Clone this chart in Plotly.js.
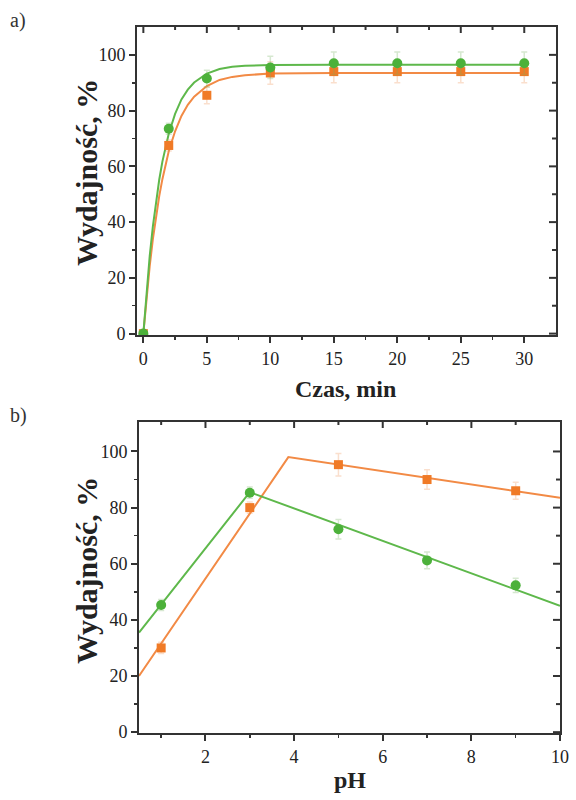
<!DOCTYPE html>
<html>
<head>
<meta charset="utf-8">
<script src="https://cdn.plot.ly/plotly-3.0.1.min.js"></script>
<style>html,body{margin:0;padding:0;background:#fff;}#chart{width:576px;height:800px;}</style>
</head>
<body>
<div id="chart"></div>
<script>
// ---- Panel a) : yield vs time ----
const timeX = [0, 2, 5, 10, 15, 20, 25, 30];
const timeGreen = [0, 73.5, 91.5, 95.5, 97, 97, 97, 97];
const timeOrange = [0, 67.5, 85.5, 93.5, 94, 94, 94, 94];
const timeGreenErr = [0, 2, 3, 4, 4, 4, 4, 4];
const timeOrangeErr = [0, 2, 3, 4, 4, 4, 4, 4];
const fitTimeX = [0, 0.25, 0.5, 0.75, 1, 1.25, 1.5, 2, 2.5, 3, 3.5, 4, 5, 6, 7, 8, 10, 12, 15, 20, 25, 30];
const fitTimeGreen = [0, 15.0, 27.8, 38.5, 47.6, 55.2, 61.7, 71.7, 78.8, 84.0, 87.5, 90.1, 93.3, 94.9, 95.7, 96.1, 96.4, 96.5, 96.5, 96.5, 96.5, 96.5];
const fitTimeOrange = [0, 13.0, 24.2, 33.9, 42.2, 49.3, 55.4, 65.4, 72.6, 78.1, 82.1, 85.0, 88.8, 91.0, 92.1, 92.7, 93.3, 93.45, 93.5, 93.5, 93.5, 93.5];

// ---- Panel b) : yield vs pH ----
const phX = [1, 3, 5, 7, 9];
const phGreen = [45.3, 85.3, 72.3, 61.2, 52.3];
const phOrange = [30, 80, 95.3, 90, 86];
const phGreenErr = [2, 2, 3.5, 3, 2.5];
const phOrangeErr = [2, 2, 4, 3.5, 3];
const fitPhGreenX = [0.5, 3, 10];
const fitPhGreenY = [35.5, 85.5, 45];
const fitPhOrangeX = [0.5, 3.87, 10];
const fitPhOrangeY = [20, 98, 83.5];

const yTicks = [0, 20, 40, 60, 80, 100];
const yMinor = [10, 30, 50, 70, 90];
const timeTicks = [0, 5, 10, 15, 20, 25, 30];
const timeMinor = [2.5, 7.5, 12.5, 17.5, 22.5, 27.5];
const phTicks = [2, 4, 6, 8, 10];
const phMinor = [1, 3, 5, 7, 9];

const GREEN = '#4cb13a';
const GREEN_L = '#5eb84b';
const ORANGE = '#f07a26';
const ORANGE_L = '#f28a45';
const SERIF = '"Liberation Serif", "Times New Roman", serif';

const traces = [
  {x: fitTimeX, y: fitTimeOrange, mode: 'lines', line: {color: ORANGE_L, width: 2}, xaxis: 'x', yaxis: 'y', hoverinfo: 'skip'},
  {x: fitTimeX, y: fitTimeGreen, mode: 'lines', line: {color: GREEN_L, width: 2}, xaxis: 'x', yaxis: 'y', hoverinfo: 'skip'},
  {x: timeX, y: timeOrange, mode: 'markers', marker: {symbol: 'square', size: 9, color: ORANGE},
   error_y: {type: 'data', array: timeOrangeErr, color: 'rgba(240,150,90,0.3)', thickness: 1.5, width: 3}, xaxis: 'x', yaxis: 'y'},
  {x: timeX, y: timeGreen, mode: 'markers', marker: {symbol: 'circle', size: 10, color: GREEN},
   error_y: {type: 'data', array: timeGreenErr, color: 'rgba(120,180,100,0.3)', thickness: 1.5, width: 3}, xaxis: 'x', yaxis: 'y'},

  {x: fitPhOrangeX, y: fitPhOrangeY, mode: 'lines', line: {color: ORANGE_L, width: 2}, xaxis: 'x2', yaxis: 'y2', hoverinfo: 'skip'},
  {x: fitPhGreenX, y: fitPhGreenY, mode: 'lines', line: {color: GREEN_L, width: 2}, xaxis: 'x2', yaxis: 'y2', hoverinfo: 'skip'},
  {x: phX, y: phOrange, mode: 'markers', marker: {symbol: 'square', size: 9, color: ORANGE},
   error_y: {type: 'data', array: phOrangeErr, color: 'rgba(240,150,90,0.3)', thickness: 1.5, width: 3}, xaxis: 'x2', yaxis: 'y2'},
  {x: phX, y: phGreen, mode: 'markers', marker: {symbol: 'circle', size: 10, color: GREEN},
   error_y: {type: 'data', array: phGreenErr, color: 'rgba(120,180,100,0.3)', thickness: 1.5, width: 3}, xaxis: 'x2', yaxis: 'y2'}
];

const tickFont = {family: SERIF, size: 18, color: '#222'};
const axBase = {
  showline: true, linecolor: '#333', linewidth: 2, mirror: true,
  ticks: 'outside', ticklen: 6, tickwidth: 2, tickcolor: '#333',
  showgrid: false, zeroline: false, tickfont: tickFont, fixedrange: true
};

const d1x = [137/576, 556/576];
const d1y = [1 - 335/800, 1 - 27/800];
const d2x = [139/576, 560/576];
const d2y = [1 - 733/800, 1 - 422/800];

// inward tick marks on the mirrored (top / right) frame edges
function innerTicks(xa, ya, xVals, yVals, len, wPx, hPx) {
  const s = [];
  const ln = {color: '#333', width: 2};
  xVals.forEach(v => s.push({type: 'line', layer: 'above', xref: xa, yref: 'paper',
    x0: v, x1: v, y0: ya.top, y1: ya.top - len / 800, line: ln}));
  yVals.forEach(v => s.push({type: 'line', layer: 'above', xref: 'paper', yref: ya.id,
    x0: xa.right, x1: xa.right - len / 576, y0: v, y1: v, line: ln}));
  return s;
}
const P1x = {right: d1x[1]}, P1y = {top: d1y[1], id: 'y'};
const P2x = {right: d2x[1]}, P2y = {top: d2y[1], id: 'y2'};
const shapes = [].concat(
  innerTicks('x', P1y, timeTicks, [], 6, 419, 308).map(s => s),
  innerTicks(P1x, P1y, [], yTicks, 7, 419, 308),
  innerTicks('x', P1y, timeMinor, [], 3, 419, 308),
  innerTicks(P1x, P1y, [], yMinor, 4, 419, 308),
  innerTicks('x2', P2y, phTicks.filter(v => v < 10), [], 6, 421, 311),
  innerTicks(P2x, P2y, [], yTicks, 7, 421, 311),
  innerTicks('x2', P2y, phMinor, [], 3, 421, 311),
  innerTicks(P2x, P2y, [], yMinor, 4, 421, 311)
);

const layout = {
  width: 576, height: 800,
  margin: {l: 0, r: 0, t: 0, b: 0},
  paper_bgcolor: '#fff', plot_bgcolor: '#fff',
  showlegend: false,
  xaxis: Object.assign({}, axBase, {domain: d1x, anchor: 'y', range: [-0.5, 32.5], tickvals: timeTicks,
    minor: {tickvals: timeMinor, ticks: 'outside', ticklen: 3, tickwidth: 1.5, tickcolor: '#333'}}),
  yaxis: Object.assign({}, axBase, {domain: d1y, anchor: 'x', range: [-0.5, 110], tickvals: yTicks,
    minor: {tickvals: yMinor, ticks: 'outside', ticklen: 3, tickwidth: 1.5, tickcolor: '#333'}}),
  xaxis2: Object.assign({}, axBase, {domain: d2x, anchor: 'y2', range: [0.5, 10], tickvals: phTicks,
    minor: {tickvals: phMinor, ticks: 'outside', ticklen: 3, tickwidth: 1.5, tickcolor: '#333'}}),
  yaxis2: Object.assign({}, axBase, {domain: d2y, anchor: 'x2', range: [-0.3, 110.5], tickvals: yTicks,
    minor: {tickvals: yMinor, ticks: 'outside', ticklen: 3, tickwidth: 1.5, tickcolor: '#333'}}),
  shapes: shapes,
  annotations: [
    {text: 'a)', xref: 'paper', yref: 'paper', x: 8/576, y: 1 - 20/800, xanchor: 'left', yanchor: 'middle', showarrow: false,
     font: {family: SERIF, size: 20, color: '#333'}},
    {text: 'b)', xref: 'paper', yref: 'paper', x: 8/576, y: 1 - 415/800, xanchor: 'left', yanchor: 'middle', showarrow: false,
     font: {family: SERIF, size: 20, color: '#333'}},
    {text: '<b>Wydajność, %</b>', xref: 'paper', yref: 'paper', x: 86/576, y: 1 - 173/800, textangle: -90, xanchor: 'center', yanchor: 'middle', showarrow: false,
     font: {family: SERIF, size: 30, color: '#222'}},
    {text: '<b>Wydajność, %</b>', xref: 'paper', yref: 'paper', x: 86/576, y: 1 - 571/800, textangle: -90, xanchor: 'center', yanchor: 'middle', showarrow: false,
     font: {family: SERIF, size: 30, color: '#222'}},
    {text: '<b>Czas, min</b>', xref: 'paper', yref: 'paper', x: 345/576, y: 1 - 389/800, xanchor: 'center', yanchor: 'middle', showarrow: false,
     font: {family: SERIF, size: 24, color: '#222'}},
    {text: '<b>pH</b>', xref: 'paper', yref: 'paper', x: 350/576, y: 1 - 780/800, xanchor: 'center', yanchor: 'middle', showarrow: false,
     font: {family: SERIF, size: 24, color: '#222'}}
  ]
};

Plotly.newPlot('chart', traces, layout, {displayModeBar: false, staticPlot: true});
</script>
</body>
</html>
